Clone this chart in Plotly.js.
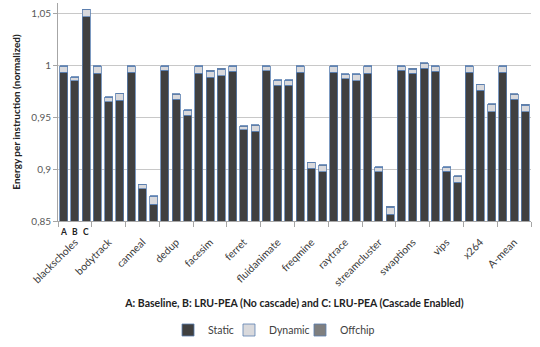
<!DOCTYPE html>
<html><head><meta charset="utf-8">
<script src="https://cdn.plot.ly/plotly-3.0.1.min.js"></script>
<style>html,body{margin:0;padding:0;background:#fff}#chart{width:540px;height:347px}</style>
</head><body><div id="chart"></div>
<script>
const categories = ['blackscholes','bodytrack','canneal','dedup','facesim','ferret','fluidanimate','freqmine','raytrace','streamcluster','swaptions','vips','x264','A-mean'];
const configs = ['A','B','C'];
// values per category in order A, B, C
const staticVals = [
  0.9934, 0.9852, 1.0469,
  0.9928, 0.9651, 0.9664,
  0.9937, 0.8809, 0.8664,
  0.9953, 0.9677, 0.9522,
  0.9928, 0.9887, 0.9900,
  0.9947, 0.9380, 0.9365,
  0.9950, 0.9812, 0.9810,
  0.9934, 0.9007, 0.8975,
  0.9937, 0.9875, 0.9856,
  0.9928, 0.8975, 0.8564,
  0.9953, 0.9925, 0.9975,
  0.9947, 0.8982, 0.8875,
  0.9934, 0.9762, 0.9554,
  0.9937, 0.9673, 0.9554
];
const dynamicVals = [
  0.0059, 0.0035, 0.0068,
  0.0065, 0.0042, 0.0062,
  0.0056, 0.0040, 0.0075,
  0.0040, 0.0043, 0.0047,
  0.0065, 0.0059, 0.0065,
  0.0046, 0.0031, 0.0056,
  0.0043, 0.0046, 0.0048,
  0.0059, 0.0053, 0.0059,
  0.0056, 0.0040, 0.0059,
  0.0065, 0.0044, 0.0071,
  0.0040, 0.0040, 0.0044,
  0.0046, 0.0037, 0.0053,
  0.0059, 0.0052, 0.0069,
  0.0056, 0.0047, 0.0065
];
const offchipVals = [
  0.0007, 0.0007, 0.0007,
  0.0007, 0.0007, 0.0007,
  0.0007, 0.0007, 0.0007,
  0.0007, 0.0007, 0.0007,
  0.0007, 0.0007, 0.0007,
  0.0007, 0.0007, 0.0007,
  0.0007, 0.0007, 0.0007,
  0.0007, 0.0007, 0.0007,
  0.0007, 0.0007, 0.0007,
  0.0007, 0.0007, 0.0007,
  0.0007, 0.0007, 0.0007,
  0.0007, 0.0007, 0.0007,
  0.0007, 0.0007, 0.0007,
  0.0007, 0.0007, 0.0007
];
const seriesNames = ['Static','Dynamic','Offchip'];
const xTitle = 'A: Baseline, B: LRU-PEA (No cascade) and C: LRU-PEA (Cascade Enabled)';
const yTitle = 'Energy per instruction (normalized)';

const n = categories.length * configs.length;
const xs = Array.from({length:n}, (_,i)=>i);
const lineC = '#5B7FB0';
const font = 'Lato, "Open Sans", sans-serif';
const mk = (name, vals, color, leg) => ({
  type:'bar', name, x: xs, y: vals, legend: leg,
  marker:{color, line:{color:lineC, width:0.8}},
  hoverinfo:'y'
});
const data = [
  mk(seriesNames[0], staticVals, '#404040', 'legend'),
  mk(seriesNames[1], dynamicVals, '#D9D9DC', 'legend2'),
  mk(seriesNames[2], offchipVals, '#7F7F7F', 'legend3')
];
const annotations = configs.map((c,i)=>({
  x:i, y:0, xref:'x', yref:'paper', yanchor:'top', yshift:-4,
  text:'<b>'+c+'</b>', showarrow:false, font:{family:font, size:8.5, color:'#222'}
}));
const legBase = (x) => ({orientation:'h', x, xanchor:'left', y:-0.5, yanchor:'middle',
    font:{family:font, size:10.5, color:'#404040'}, itemwidth:30, bgcolor:'rgba(0,0,0,0)'});
const layout = {
  width:540, height:347,
  margin:{l:58, r:9, t:3, b:121},
  paper_bgcolor:'#fff', plot_bgcolor:'#fff',
  barmode:'stack', bargap:0.29,
  separators:',.',
  font:{family:font, color:'#404040'},
  showlegend:true,
  legend: legBase(0.2326),
  legend2: legBase(0.3615),
  legend3: legBase(0.5116),
  xaxis:{
    range:[-0.5, n-0.5],
    tickvals: categories.map((_,i)=>i*3+1),
    ticktext: categories,
    tickangle:-45,
    ticks:'', ticklabelstandoff:10,
    tickfont:{family:font, size:10.5, color:'#3a3a3a'},
    showline:true, linecolor:'#A6A6A6', linewidth:1,
    showgrid:false, zeroline:false,
    minor:{tick0:-0.5, dtick:3, ticks:'outside', ticklen:5, tickcolor:'#A6A6A6', showgrid:false},
    title:{text:'<b>'+xTitle+'</b>', font:{family:font, size:10.5, color:'#222'}, standoff:12}
  },
  yaxis:{
    range:[0.85, 1.0604],
    tickvals:[0.85,0.9,0.95,1,1.05],
    tickformat:'',
    ticks:'outside', ticklen:4, tickcolor:'#A6A6A6',
    tickfont:{family:font, size:10, color:'#595959'},
    showline:true, linecolor:'#A6A6A6', linewidth:1,
    showgrid:true, gridcolor:'#C8C8C8', gridwidth:1,
    zeroline:false,
    title:{text:'<b>'+yTitle+'</b>', font:{family:font, size:10, color:'#222'}, standoff:8}
  },
  annotations
};
Plotly.newPlot('chart', data, layout, {displayModeBar:false, staticPlot:true});
</script></body></html>
